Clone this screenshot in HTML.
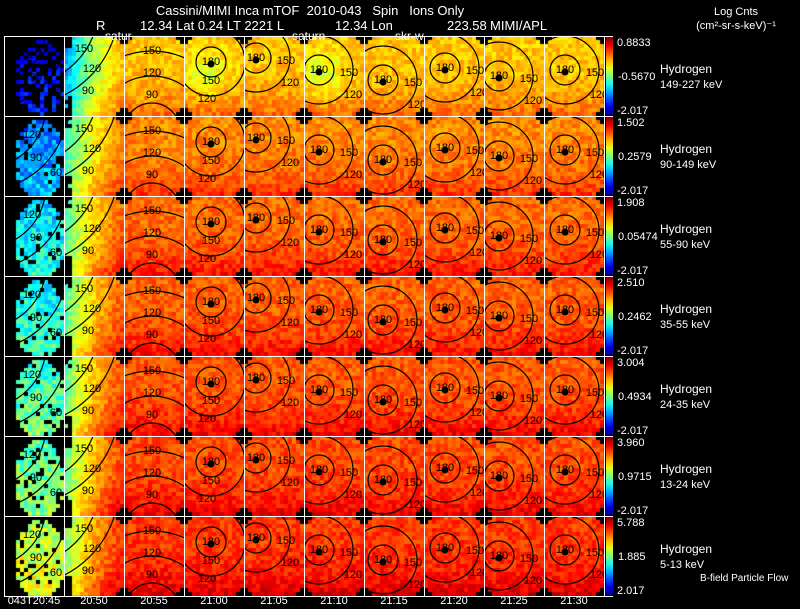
<!DOCTYPE html>
<html><head><meta charset="utf-8"><style>
html,body{margin:0;padding:0;background:#000;overflow:hidden;width:800px;height:609px;}
#wrap{position:relative;width:800px;height:609px;overflow:hidden;background:#000;font-family:"Liberation Sans",sans-serif;}
canvas,svg{position:absolute;left:0;top:0;overflow:hidden;display:block;}
svg text{white-space:pre;}
</style></head><body>
<div id="wrap">
<canvas id="cv" width="800" height="609"></canvas>
<svg id="sv" width="800" height="609"></svg>
</div>
<script>
// ---- data ----
const times = ["043T20:45","20:50","20:55","21:00","21:05","21:10","21:15","21:20","21:25","21:30"];
const species = ["Hydrogen","Hydrogen","Hydrogen","Hydrogen","Hydrogen","Hydrogen","Hydrogen"];
const energies = ["149-227 keV","90-149 keV","55-90 keV","35-55 keV","24-35 keV","13-24 keV","5-13 keV"];
const cbMax = ["0.8833","1.502","1.908","2.510","3.004","3.960","5.788"];
const cbMid = ["-0.5670","0.2579","0.05474","0.2462","0.4934","0.9715","1.885"];
const cbMin = ["-2.017","-2.017","-2.017","-2.017","-2.017","-2.017","2.017"];
// normalized mean level per energy row (main columns) and first column
const rowLevel = [0.68,0.74,0.77,0.78,0.79,0.8,0.82];
const firstColLevel = [0.14,0.24,0.34,0.37,0.42,0.45,0.55];
// contour centre per time column (panel-relative, px) ; null = off-panel arcs
const centreX = [null,null,null,27,12,15,19,21,15,21];
const centreY = [null,null,null,26,22,34,44,32,40,34];

const X0=4, Y0=36, CW=60, RH=80, NC=10, NR=7, CELL=4;
const cv=document.getElementById('cv'), ctx=cv.getContext('2d');
const svg=document.getElementById('sv'), NS='http://www.w3.org/2000/svg';
function jet(v){v=Math.max(0,Math.min(1,v));const c=t=>Math.round(255*Math.max(0,Math.min(1,1.5-Math.abs(t))));return `rgb(${c(4*v-3)},${c(4*v-2)},${c(4*v-1)})`;}
function hsh(a,b,c){let h=(a*374761393+b*668265263+c*2147483647)|0;h=(h^(h>>>13))*1274126177;h=h^(h>>>16);return ((h>>>0)%1000)/1000;}
function el(tag,attrs,name,txt,parent){const e=document.createElementNS(NS,tag);for(const k in attrs)e.setAttribute(k,attrs[k]);
 
 
 if(txt!==undefined)e.textContent=txt;(parent||svg).appendChild(e);return e;}
const xScale=c=>X0+c*CW, yScale=r=>Y0+r*RH;

for(let r=0;r<NR;r++)for(let c=0;c<NC;c++){
 const px=xScale(c),py=yScale(r);
 for(let j=0;j<RH/CELL;j++)for(let i=0;i<CW/CELL;i++){
  const x=i*CELL+2,y=j*CELL+2,n=hsh(r*31+c,i,j);
  let v,black=false;
  if(c===0){
   v=firstColLevel[r]+(n-0.5)*0.2+0.08*(y/RH);
   const ex=(x-36)/25, ey=(y-44)/40; if(ex*ex+ey*ey>1||n>(r===0?0.5:0.9))black=true;
  } else {
   v=rowLevel[r]+(n-0.5)*0.1+0.1*Math.pow(y/RH,3);
   if(c===1){v-=0.34*Math.pow(1-x/CW,1.5)*(r===0?1.2:1); if(i<2&&(j<3||j>14)&&n>0.2)black=true;}
   if(r===0&&(c===3||c===5)) v-=0.1*Math.exp(-((x-20)*(x-20)+(y-40)*(y-40))/500);
  }
  const ci=Math.min(i,CW/CELL-1-i), cj=Math.min(j,RH/CELL-1-j);
  if((ci<1&&cj<2)||(ci<2&&cj<1))black=true;
  ctx.fillStyle=black?'#000':jet(v);
  ctx.fillRect(px+i*CELL,py+j*CELL,CELL,CELL);
 }
 const pan=el('svg',{x:px,y:py,width:CW,height:RH,overflow:'hidden'},'panel-contours');
 const g={stroke:'#000','stroke-width':1.2,fill:'none'};
 let labels=[];
 if(centreX[c]===null){
  let cx,cy,radii;
  if(c===0){cx=-20;cy=-10;radii=[40,62,84];labels=[["120",28,22],["90",32,45],["60",52,60]];}
  else if(c===1){cx=-45;cy=-30;radii=[60,80,100];labels=[["150",20,16],["120",28,36],["90",24,58]];}
  else {cx=28;cy=95;radii=[28,55,80];labels=[["150",28,18],["120",28,40],["90",28,62]];}
  radii.forEach(rr=>el('circle',Object.assign({cx,cy,r:rr},g),'contour-line',undefined,pan));
 } else {
  const cx=centreX[c],cy=centreY[c];
  [15,34].forEach(rr=>el('circle',Object.assign({cx,cy,r:rr},g),'contour-line',undefined,pan));
  el('circle',{cx,cy:cy+2,r:3.5,fill:'#000'},'field-direction-dot',undefined,pan);
  labels=[["180",cx,cy+3],["150",cx+(c===3?0:30),cy+(c===3?22:6)],["120",cx+(c===3?-4:34),cy+(c===3?40:28)]];
 }
 labels.forEach(l=>{if(l[1]>2&&l[1]<CW-4&&l[2]>6&&l[2]<RH-2)el('text',{x:l[1],y:l[2],'font-size':11,'text-anchor':'middle',fill:'#000'},'contour-label',l[0],pan);});
}
for(let c=0;c<=NC;c++)el('line',{x1:xScale(c)+.5,y1:Y0,x2:xScale(c)+.5,y2:Y0+NR*RH,stroke:'#fff','stroke-width':1},'grid-line');
for(let r=0;r<=NR;r++)el('line',{x1:X0,y1:yScale(r)+.5,x2:X0+NC*CW+9,y2:yScale(r)+.5,stroke:'#fff','stroke-width':1},'grid-line');
const defs=document.createElementNS(NS,'defs');const lg=document.createElementNS(NS,'linearGradient');
lg.setAttribute('id','jet');lg.setAttribute('x1',0);lg.setAttribute('y1',1);lg.setAttribute('x2',0);lg.setAttribute('y2',0);
for(let k=0;k<=10;k++){const s=document.createElementNS(NS,'stop');s.setAttribute('offset',k/10);s.setAttribute('stop-color',jet(k/10));lg.appendChild(s);}
defs.appendChild(lg);svg.appendChild(defs);
for(let r=0;r<NR;r++){const y=yScale(r);
 el('rect',{x:606,y:y+1,width:7,height:RH-2,fill:'url(#jet)'},'colorbar');
 el('text',{x:617,y:y+10,'font-size':11,fill:'#fff'},'colorbar-max',cbMax[r]);
 el('text',{x:618,y:y+44,'font-size':11,fill:'#fff'},'colorbar-mid',cbMid[r]);
 el('text',{x:617,y:y+RH-2,'font-size':11,fill:'#fff'},'colorbar-min',cbMin[r]);
 el('text',{x:660,y:y+37,'font-size':12,fill:'#fff'},'species-label',species[r]);
 el('text',{x:660,y:y+52,'font-size':11,fill:'#fff'},'energy-label',energies[r]);
}
times.forEach((t,c)=>el('text',{x:xScale(c)+CW/2,y:604,'font-size':11,fill:'#fff','text-anchor':'middle'},'time-tick-label',t));
el('text',{x:310,y:15,'font-size':13,fill:'#fff','text-anchor':'middle'},'title','Cassini/MIMI Inca mTOF  2010-043   Spin   Ions Only');
el('text',{x:96,y:30,'font-size':13,fill:'#fff'},'r-label','R');
el('text',{x:140,y:30,'font-size':13,fill:'#fff'},'position-info','12.34 Lat 0.24 LT 2221 L');
el('text',{x:335,y:30,'font-size':13,fill:'#fff'},'lon-info','12.34 Lon');
el('text',{x:447,y:30,'font-size':13,fill:'#fff'},'lon-value','223.58');
el('text',{x:490,y:30,'font-size':13,fill:'#fff'},'institution','MIMI/APL');
el('text',{x:105,y:40,'font-size':12,fill:'#fff'},'saturn-marker','satur');
el('text',{x:292,y:40,'font-size':12,fill:'#fff'},'saturn-marker','saturn');
el('text',{x:395,y:40,'font-size':12,fill:'#fff'},'skr-marker','skr-w');
el('text',{x:736,y:15,'font-size':11,fill:'#fff','text-anchor':'middle'},'colorbar-title','Log Cnts');
el('text',{x:736,y:29,'font-size':11,fill:'#fff','text-anchor':'middle'},'colorbar-units','(cm²-sr-s-keV)⁻¹');
el('text',{x:700,y:581,'font-size':10,fill:'#fff'},'footnote','B-field Particle Flow');
</script>
</body></html>
